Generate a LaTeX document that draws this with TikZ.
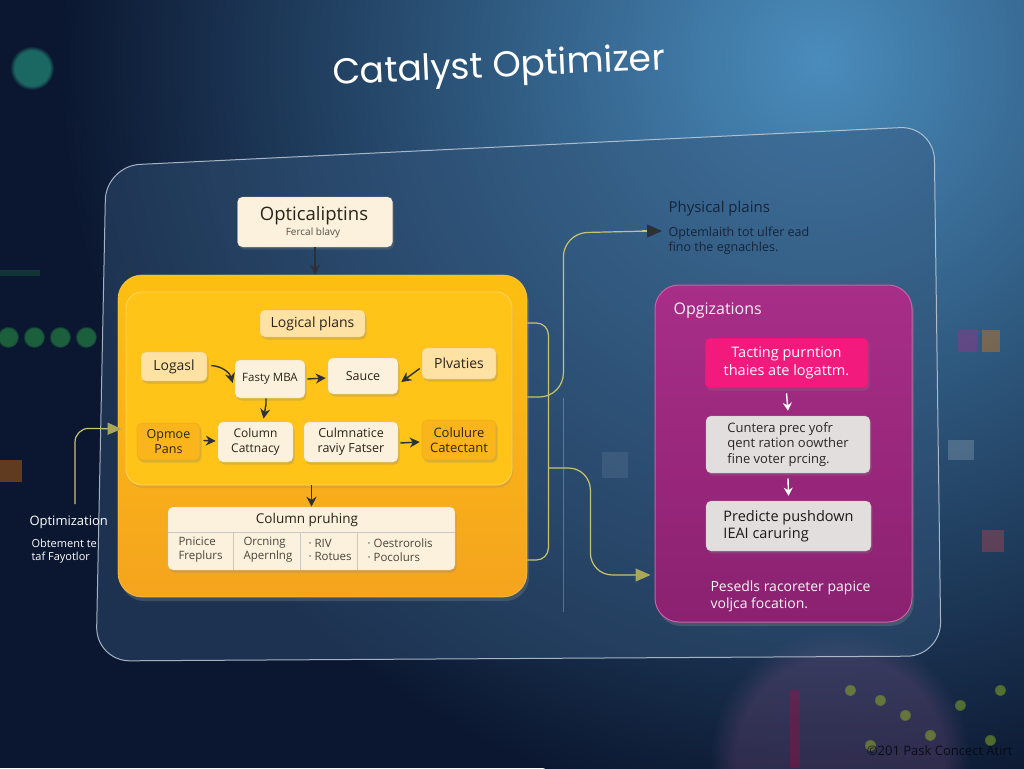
\documentclass[tikz,border=0pt]{standalone}
\usepackage{fontspec}
\setmainfont{Open Sans}
\newfontfamily\titlefont{Poppins}
\usetikzlibrary{arrows.meta,shadows,calc,fadings}
\definecolor{bgdark}{HTML}{0B1730}
\definecolor{glow}{HTML}{4A8CBC}
\definecolor{panelline}{HTML}{C9D4E0}
\definecolor{panelfill}{HTML}{34557A}
\definecolor{orA}{HTML}{FDBF12}
\definecolor{orB}{HTML}{F5A41E}
\definecolor{orInner}{HTML}{FFC417}
\definecolor{orEdge}{HTML}{FFD75A}
\definecolor{cream}{HTML}{FBF1DC}
\definecolor{creamor}{HTML}{FDE2A4}
\definecolor{ordark}{HTML}{F9B51B}
\definecolor{ink}{HTML}{2A2418}
\definecolor{conn}{HTML}{C8C46A}
\definecolor{purA}{HTML}{A82E88}
\definecolor{purB}{HTML}{8B2170}
\definecolor{purEdge}{HTML}{C960A8}
\definecolor{hotpink}{HTML}{F21A7D}
\definecolor{grayb}{HTML}{E3DEDE}
\definecolor{navytext}{HTML}{16243A}
\definecolor{darkarrow}{HTML}{2E3038}
\definecolor{tealglow}{HTML}{2FC9A0}
\definecolor{greenglow}{HTML}{2EA84A}
\begin{document}
\begin{tikzpicture}[x=1pt,y=-1pt,
  fnt/.style={font=\fontsize{#1}{\dimexpr #1pt*12/10\relax}\selectfont},
  sbox/.style={rounded corners=5pt, draw=#1!85!black, draw opacity=0.35, line width=0.6pt, fill=#1,
    drop shadow={opacity=0.28, shadow xshift=1.5pt, shadow yshift=-2.5pt}, text=ink, align=center, inner sep=2pt},
  darrow/.style={draw=darkarrow, line width=1.4pt, -{Stealth[length=10pt,width=10pt]}},
  warrow/.style={draw=white, line width=1.4pt, -{Stealth[length=8pt,width=9pt]}},
  connline/.style={draw=conn, line width=1.2pt},
  bokeh/.style={fill=#1, path fading=circle with fuzzy edge 20 percent},
  sqbokeh/.style={fill=#1}
]
\useasboundingbox (0,0) rectangle (1024,768);
% background
\fill[bgdark] (0,0) rectangle (1024,768);
\begin{scope}
\clip (0,0) rectangle (1024,768);
\shade[inner color=glow, outer color=bgdark] (820,60) circle[radius=760];
\fill[purA!70, opacity=0.18, path fading=circle with fuzzy edge 20 percent] (840,760) circle[radius=130];
% bokeh lights
\fill[bokeh=tealglow, opacity=0.45] (32,68) circle[radius=22];
\foreach \x in {8,34,60,86} \fill[bokeh=greenglow, opacity=0.5] (\x,337) circle[radius=11];
\fill[sqbokeh=greenglow, opacity=0.2] (0,270) rectangle (40,276);
\fill[sqbokeh=orange, opacity=0.35] (0,460) rectangle (22,482);
\fill[sqbokeh=purA, opacity=0.4] (958,330) rectangle (978,352);
\fill[sqbokeh=orange, opacity=0.35] (982,330) rectangle (1000,352);
\fill[sqbokeh=white, opacity=0.18] (948,440) rectangle (974,460);
\fill[sqbokeh=red!70, opacity=0.28] (982,530) rectangle (1004,552);
\fill[sqbokeh=white, opacity=0.14] (602,452) rectangle (628,478);
\foreach \x/\y in {850/690,880/700,905/715,930/735,960/705,990/740,870/745,1000/690}
  \fill[bokeh=yellow!70!green, opacity=0.4] (\x,\y) circle[radius=6];
\fill[sqbokeh=purple, opacity=0.3] (790,690) rectangle (800,768);
\end{scope}
% title
\node[text=white, rotate=2.6, font=\titlefont\fontsize{36}{42}\selectfont] (title) at (499,68) {Catalyst Optimizer};
% big panel
\draw[draw=panelline, draw opacity=0.8, line width=1pt, fill=panelfill, fill opacity=0.45, rounded corners=34pt]
  (106,166) -- (934,126) -- (941,656) -- (96,661) -- cycle;
% faint reflection line
\draw[white, opacity=0.25, line width=0.6pt] (563,398) -- (563,612);
% top box
\node[sbox=cream, minimum width=155, minimum height=50] (opt) at (315,222) {};
\node[text=ink, fnt=18.5] at (314,216) {Opticaliptins};
\node[text=ink!80, fnt=10] at (313,233) {Fercal blavy};
% orange panel
\node[rounded corners=24pt, top color=orA, bottom color=orB, draw=orEdge, draw opacity=0.6, line width=0.8pt,
  minimum width=409, minimum height=322, drop shadow={opacity=0.35, shadow xshift=2pt, shadow yshift=-4pt}] (orange) at (322.5,436) {};
\node[rounded corners=16pt, fill=orInner, draw=orEdge, line width=0.8pt, minimum width=386, minimum height=193,
  drop shadow={opacity=0.18, shadow xshift=1pt, shadow yshift=-3pt}] (inner) at (319,388.5) {};
\draw[darrow] (opt.south) -- (opt.south |- orange.north);
% inner nodes
\node[sbox=creamor, minimum width=105, minimum height=27, fnt=14] (logical) at (312.5,323.5) {Logical plans};
\node[sbox=creamor, minimum width=66, minimum height=29, fnt=14] (logasl) at (174,366.5) {Logasl};
\node[sbox=cream, minimum width=70, minimum height=38, fnt=11.5] (fasty) at (270,379) {Fasty MBA};
\node[sbox=cream, minimum width=70, minimum height=36, fnt=12.5] (sauce) at (363,376) {Sauce};
\node[sbox=creamor, minimum width=74, minimum height=31, fnt=14] (plv) at (459,363.5) {Plvaties};
\node[sbox=ordark, minimum width=63, minimum height=37, fnt=12.5] (opmoe) at (168.5,441.5) {Opmoe\\Pans};
\node[sbox=cream, minimum width=75, minimum height=40, fnt=12] (colcat) at (255.5,442) {Column\\Cattnacy};
\node[sbox=cream, minimum width=94, minimum height=40, fnt=12.5] (culm) at (351,442) {Culmnatice\\raviy Fatser};
\node[sbox=ordark, minimum width=74, minimum height=40, fnt=13] (colu) at (459,440) {Colulure\\Catectant};
\draw[darrow] ($(logasl.east)+(4,-1)$) to[bend left=35] ($(fasty.west)+(-2,4)$);
\draw[darrow] ($(fasty.east)+(2,0)$) -- ($(sauce.west)+(-2,2)$);
\draw[darrow] ($(plv.west)+(-2,5)$) -- ($(sauce.east)+(3,6)$);
\draw[darrow] ($(fasty.south)+(-4,0)$) -- ($(fasty.south)+(-4,6)$) -- ($(colcat.north)+(8,-3)$);
\draw[darrow] ($(opmoe.east)+(3,-1)$) -- ($(colcat.west)+(-2,-1)$);
\draw[darrow] ($(culm.east)+(2,1)$) -- ($(colu.west)+(-2,2)$);
% column pruning table
\node[sbox=cream, minimum width=287, minimum height=63] (table) at (311.5,538.5) {};
\draw[darrow] (inner.south -| table.north) -- (table.north);
\node[text=ink, fnt=13.5] (tablehead) at (307,520) {Column pruhing};
\draw[ink!25, line width=0.8pt] (168,532) -- (455,532);
\foreach \x in {233,300,357} \draw[ink!25, line width=0.8pt] (\x,532) -- (\x,570);
\node[text=ink!85, fnt=11.5, align=left, anchor=west] at (175,550) {Pnicice\\Freplurs};
\node[text=ink!85, fnt=11.5, align=left, anchor=west] at (240,550) {Orcning\\Apernlng};
\node[text=ink!85, fnt=11.5, align=left, anchor=west] at (305,550) {· RIV\\· Rotues};
\node[text=ink!85, fnt=11.5, align=left, anchor=west] at (364,550) {· Oestrorolis\\· Pocolurs};
% physical plans text
\node[text=navytext, fnt=15, anchor=west] (phys) at (665,209) {Physical plains};
\node[text=navytext, fnt=12.5, align=left, anchor=west] (physsub) at (665,241) {Optemlaith tot ulfer ead\\fino the egnachles.};
\coordinate (physin) at (662,231);
% purple panel
\node[rounded corners=24pt, top color=purA, bottom color=purB, draw=purEdge, line width=1pt,
  minimum width=257, minimum height=337, drop shadow={opacity=0.35, shadow xshift=2pt, shadow yshift=-4pt}] (purple) at (783.5,453.5) {};
\node[text=white!92!purA, fnt=16, anchor=west] (opg) at (670,311) {Opgizations};
\node[sbox=hotpink, text=white, minimum width=163, minimum height=50, fnt=14.5] (pinkbox) at (786.5,363) {Tacting purntion\\thaies ate logattm.};
\node[sbox=grayb, text=black!85, align=left, minimum width=164, minimum height=57, fnt=13] (gray1) at (788,444.5) {Cuntera prec yofr\\qent ration oowther\\fine voter prcing.};
\node[sbox=grayb, text=black!90, align=left, minimum width=165, minimum height=50, fnt=14.5] (gray2) at (788.5,526) {Predicte pushdown\\IEAI caruring};
\draw[warrow] ($(pinkbox.south)+(0,5)$) -- ($(gray1.north)+(0,-5)$);
\draw[warrow] ($(gray1.south)+(0,5)$) -- ($(gray2.north)+(0,-5)$);
\node[text=white!95!purA, fnt=14, align=left, anchor=west] (purnote) at (707,596) {Pesedls racoreter papice\\voljca focation.};
% connectors
\draw[connline, rounded corners=12pt] ($(orange.east)+(0,-113)$) -- ($(orange.east)+(21,-113)$) -- ($(orange.east)+(21,124)$) -- ($(orange.east)+(0,124)$);
\draw[connline, rounded corners=24pt] ($(orange.east)+(0,-39)$) -- ($(orange.east)+(36,-39)$) -- ($(orange.east)+(36,-203)$) -- ($(physin)+(-12,0)$);
\draw[connline, -{Triangle[length=15pt,width=13pt,fill=darkarrow,color=darkarrow]}] ($(physin)+(-20,0)$) -- (physin);
\draw[connline, rounded corners=22pt, -{Triangle[length=15pt,width=13pt,fill=conn!85!black,color=conn!85!black]}] ($(orange.east)+(21,32)$) -- ($(orange.east)+(63,32)$) -- ($(orange.east)+(63,139)$) -- ($(purple.west)+(-4,121.5)$);
% left connector
\node[text=white, fnt=13, anchor=west] (optim) at (26,522) {Optimization};
\node[text=white!90, fnt=11, align=left, anchor=west] (optimsub) at (28,551) {Obtement te\\taf Fayotlor};
\draw[connline, rounded corners=14pt, -{Triangle[length=14pt,width=12pt,fill=conn!85!black,color=conn!85!black]}] ($(optim.north west)+(49,-8)$) -- ($(optim.north west)+(49,-84)$) -- ($(orange.west)+(4,-7)$);
% copyright
\node[text=black!70!bgdark, opacity=0.85, fnt=13, anchor=east] (copy) at (1016,751) {©201 Pask Concect Atirt};
\end{tikzpicture}
\end{document}
